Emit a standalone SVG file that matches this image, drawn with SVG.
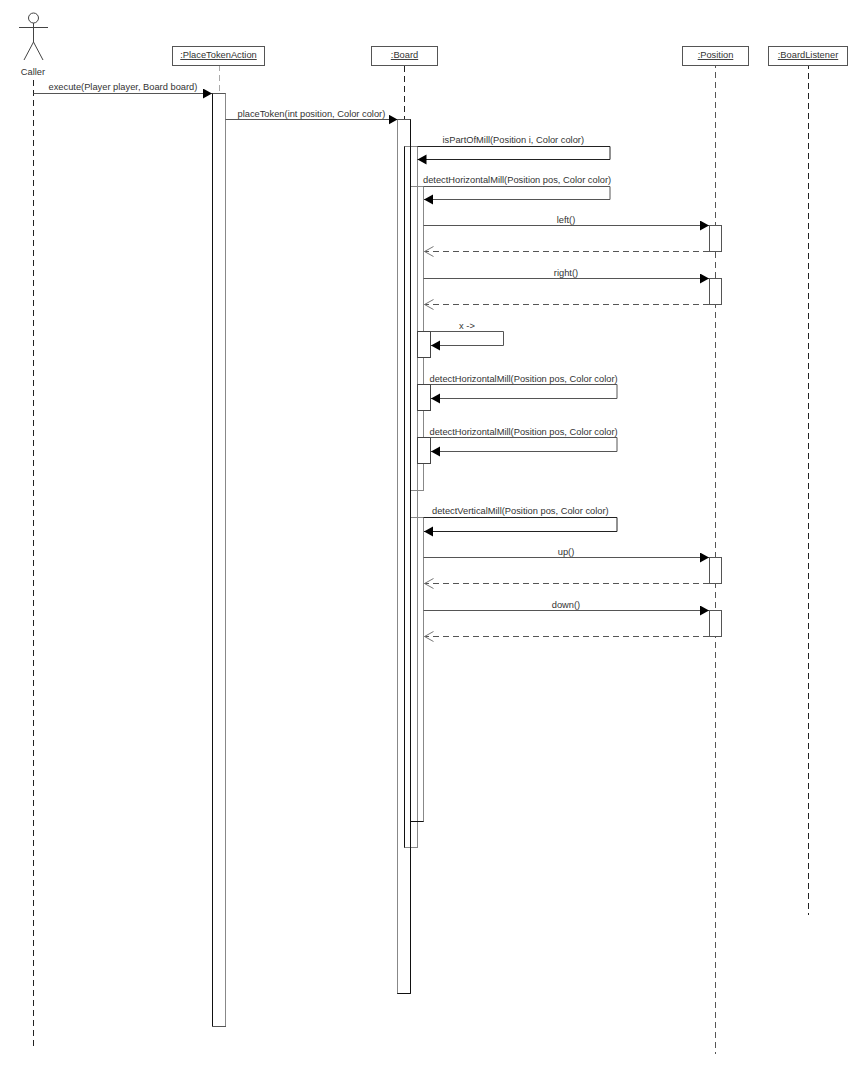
<svg xmlns="http://www.w3.org/2000/svg" width="861" height="1080" viewBox="0 0 861 1080">
<style>
text{font-family:"Liberation Sans",Arial,sans-serif;font-size:9.3px;fill:#333}
.c{text-anchor:middle}
.u{text-decoration:underline}
.box{fill:#fff;stroke:#555;stroke-width:1}
.thin{fill:none;stroke:#888;stroke-width:1}
.dark{fill:none;stroke:#111;stroke-width:1}
.gray{fill:none;stroke:#888;stroke-width:1}
.life{fill:none;stroke:#222;stroke-width:1;stroke-dasharray:6 4}
.msg{fill:none;stroke:#555;stroke-width:1}
.ret{fill:none;stroke:#555;stroke-width:1;stroke-dasharray:6 4}
.actor{fill:none;stroke:#444;stroke-width:1}
</style>
<defs>
<marker id="solid" markerUnits="userSpaceOnUse" markerWidth="10" markerHeight="12" refX="9" refY="5" orient="auto"><path d="M0 0L9 5L0 10Z" fill="#000"/></marker>
<marker id="open" markerUnits="userSpaceOnUse" markerWidth="10" markerHeight="12" refX="9" refY="5" orient="auto"><path d="M0 0L9 5L0 10" fill="none" stroke="#777"/></marker>
</defs>
<rect width="861" height="1080" fill="#fff"/>
<g id="lifelines">
<path class="life" d="M33.5 80V1048"/>
<path class="life" style="stroke:#aaa" d="M219.5 65V93"/>
<path class="life" d="M404.5 66V146"/>
<path class="life" style="stroke:#555;stroke-dashoffset:4" d="M715.5 66V1054"/>
<path class="life" style="stroke-dashoffset:3" d="M808.5 66V915"/>
</g>
<g id="node-caller">
<circle class="actor" cx="33.5" cy="18" r="5"/>
<path class="actor" d="M33.5 23V42M19 27.5H48M33.5 42L24 60M33.5 42L43 60"/>
<text class="c" x="33" y="75">Caller</text>
</g>
<g id="node-placetokenaction">
<rect class="box" x="172.5" y="46.5" width="92" height="19"/>
<text class="c u" x="218.5" y="58">:PlaceTokenAction</text>
<rect class="box" x="212.5" y="93.5" width="13" height="933"/>
<path class="dark" d="M212.5 93.5V1026"/>
<path class="gray" d="M225.5 93.5V1026"/>
</g>
<g id="node-board">
<rect class="box" x="371.5" y="46.5" width="66" height="19"/>
<text class="c u" x="404.5" y="58">:Board</text>
<rect class="box" x="397.5" y="119.5" width="13" height="874"/>
<rect class="thin" x="404.5" y="146.5" width="13" height="701"/>
<rect class="thin" x="410.5" y="186.5" width="13" height="304"/>
<rect class="thin" x="410.5" y="517.5" width="13" height="304"/>
<path class="gray" d="M397.5 119.5V993"/>
<path class="dark" d="M404.5 146.5V847.5M410.5 119.5V993.5M397.5 993.5H410.5M410.5 821.5H423.5"/>
<rect class="box" x="417.5" y="331.5" width="13" height="26" style="stroke:#444"/>
<rect class="box" x="417.5" y="384.5" width="13" height="26" style="stroke:#444"/>
<rect class="box" x="417.5" y="437.5" width="13" height="26" style="stroke:#444"/>
</g>
<g id="node-position">
<rect class="box" x="682.5" y="46.5" width="66" height="19"/>
<text class="c u" x="715.5" y="58">:Position</text>
<rect class="box" x="709.5" y="225.5" width="12" height="26"/>
<rect class="box" x="709.5" y="278.5" width="12" height="26"/>
<rect class="box" x="709.5" y="557.5" width="12" height="26"/>
<rect class="box" x="709.5" y="610.5" width="12" height="26"/>
</g>
<g id="node-boardlistener">
<rect class="box" x="768.5" y="46.5" width="79" height="19"/>
<text class="c u" x="808" y="58">:BoardListener</text>
</g>
<g id="connectors">
<path class="msg" marker-end="url(#solid)" d="M33.5 93.5H212"/>
<path class="msg" marker-end="url(#solid)" d="M225.5 119.5H397.5"/>
<path class="msg" marker-end="url(#solid)" style="stroke:#222" d="M417.5 146.5H610V159.5H417.5"/>
<path class="msg" marker-end="url(#solid)" d="M423.5 186.5H610V199.5H424"/>
<path class="msg" marker-end="url(#solid)" d="M423.5 225.5H709"/>
<path class="ret" marker-end="url(#open)" d="M709 251.5H424.5"/>
<path class="msg" marker-end="url(#solid)" d="M423.5 278.5H709"/>
<path class="ret" marker-end="url(#open)" d="M709 304.5H424.5"/>
<path class="msg" marker-end="url(#solid)" d="M430.5 331.5H503.5V345.5H431"/>
<path class="msg" marker-end="url(#solid)" d="M430.5 384.5H617V398.5H431"/>
<path class="msg" marker-end="url(#solid)" d="M430.5 437.5H617V451.5H431"/>
<path class="msg" marker-end="url(#solid)" style="stroke:#222" d="M423.5 517.5H617V531.5H424"/>
<path class="msg" marker-end="url(#solid)" d="M423.5 557.5H709"/>
<path class="ret" marker-end="url(#open)" d="M709 583.5H424.5"/>
<path class="msg" marker-end="url(#solid)" d="M423.5 610.5H709"/>
<path class="ret" marker-end="url(#open)" d="M709 636.5H424.5"/>
</g>
<g id="labels">
<text x="48.5" y="90">execute(Player player, Board board)</text>
<text x="237.5" y="116.5">placeToken(int position, Color color)</text>
<text x="442.5" y="143">isPartOfMill(Position i, Color color)</text>
<text x="423" y="182.5">detectHorizontalMill(Position pos, Color color)</text>
<text class="c" x="566" y="222.5">left()</text>
<text class="c" x="566" y="275.5">right()</text>
<text class="c" x="467" y="328.5">x -&gt;</text>
<text x="429.5" y="381.5">detectHorizontalMill(Position pos, Color color)</text>
<text x="429.5" y="434.5">detectHorizontalMill(Position pos, Color color)</text>
<text x="432" y="514">detectVerticalMill(Position pos, Color color)</text>
<text class="c" x="566" y="554.5">up()</text>
<text class="c" x="566" y="607.5">down()</text>
</g>
</svg>
